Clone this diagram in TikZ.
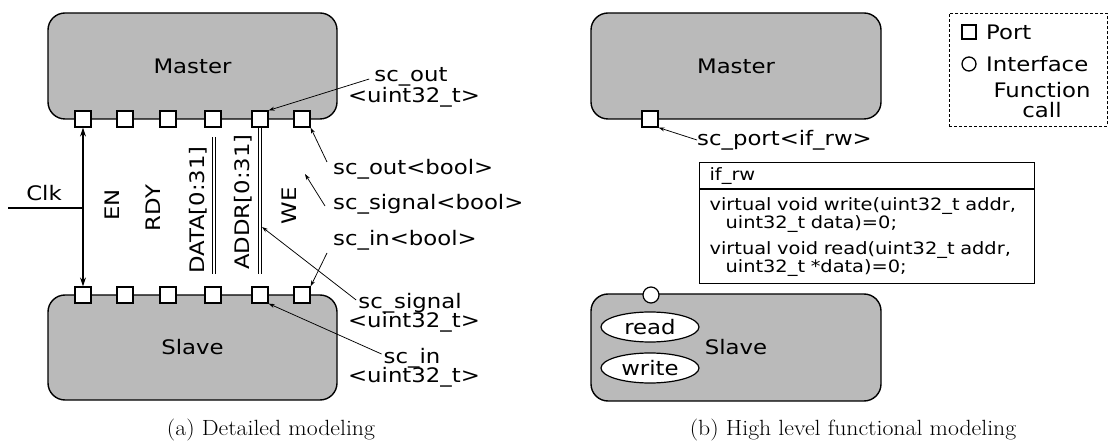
\documentclass[tikz,border=0pt]{standalone}
\usepackage{fontspec}
\usetikzlibrary{arrows.meta,shapes.geometric}
\newfontfamily\dvsans{DejaVu Sans}[FakeStretch=1.14]
\newfontfamily\capserif{Latin Modern Roman}[FakeStretch=1.08]
\definecolor{blockgray}{RGB}{186,186,186}
\tikzset{
  every node/.style={font=\dvsans\fontsize{20}{20}\selectfont},
  block/.style={draw, line width=1.4pt, fill=blockgray, rounded corners=17pt, inner sep=0pt},
  port/.style={draw, line width=1.2pt, fill=white, minimum size=16pt, inner sep=0pt},
  iface/.style={circle, draw, line width=1.2pt, fill=white, minimum size=16pt, inner sep=0pt},
  lbl/.style={inner sep=0pt},
  sig/.style={rotate=90, inner sep=0pt},
  ptr/.style={-{Stealth[length=6pt,width=4pt]}, line width=0.75pt},
  bus/.style={double, double distance=1.6pt, line width=0.9pt},
  clkarrow/.style={{Stealth[length=9pt,width=6pt]}-{Stealth[length=9pt,width=6pt]}, line width=1.3pt},
  caption/.style={font=\capserif\fontsize{22}{24}\selectfont, inner sep=0pt},
  func/.style={ellipse, draw, line width=1.2pt, fill=white, minimum width=98pt, minimum height=30pt, inner sep=0pt},
  umlpart/.style={draw, line width=1.2pt, anchor=north west, text width=315pt, inner xsep=10pt, inner ysep=0pt, align=left, font=\dvsans\fontsize{17}{16}\selectfont},
}
\begin{document}
\begin{tikzpicture}[x=1pt,y=-1pt]
\useasboundingbox (0,0) rectangle (1108,443);

% ---------- (a) signal-level model ----------
\node[block, minimum width=289pt, minimum height=106pt] (ma) at (192.5,66) {Master};
\node[block, minimum width=289pt, minimum height=105pt] (sa) at (192.5,347.5) {Slave};
\foreach \i/\x in {1/83,2/125,3/168,4/213,5/260,6/302} {
  \node[port] (pm\i) at (\x,119) {};
  \node[port] (ps\i) at (\x,295) {};
}

% clock input
\coordinate (clkin) at (8,208);
\draw[line width=1.2pt] (clkin) -- (clkin -| pm1);
\node[lbl] (clk) at (44,193) {Clk};
\draw[clkarrow] (pm1.south) -- (ps1.north);

% signal names
\node[sig] (en) at (112,205) {EN};
\node[sig] (rdy) at (153,208) {RDY};
\node[sig] (data) at (198,210) {DATA[0:31]};
\node[sig] (addr) at (243,202) {ADDR[0:31]};
\node[sig] (we) at (289,206) {WE};

% buses
\coordinate (dtop) at (214,137);
\coordinate (dbot) at (214,274);
\draw[bus] (dtop) -- (dbot);
\coordinate (abot) at (260,274);
\draw[bus] (pm5.south) -- (abot);
\coordinate (addrpt) at (262,227);
\coordinate (wesig) at (305,174);

% annotations
\node[lbl] (l1a) at (411,77) {sc\_out};
\node[lbl] (l1b) at (414,97) {<uint32\_t>};
\draw[ptr] ([shift={(-5,2)}]l1a.west) -- (pm5.north east);

\node[lbl, anchor=west] (l2) at (333,169) {sc\_out<bool>};
\draw[ptr] ([shift={(-6,-7)}]l2.west) -- (pm6.south east);

\node[lbl, anchor=west] (l3) at (333,204) {sc\_signal<bool>};
\draw[ptr] ([shift={(-8,2)}]l3.west) -- (wesig);

\node[lbl, anchor=west] (l4) at (333,240) {sc\_in<bool>};
\draw[ptr] ([shift={(-6,13)}]l4.west) -- (ps6.north east);

\node[lbl] (l5a) at (410,303) {sc\_signal};
\node[lbl] (l5b) at (414,322) {<uint32\_t>};
\draw[ptr] ([shift={(-2,-3)}]l5a.west) -- (addrpt);

\node[lbl] (l6a) at (412,358) {sc\_in};
\node[lbl] (l6b) at (414,377) {<uint32\_t>};
\draw[ptr] ([shift={(-2,-4)}]l6a.west) -- (ps5.south east);

\node[caption] (capa) at (271,430) {(a) Detailed modeling};

% ---------- (b) transaction-level model ----------
\node[block, minimum width=290pt, minimum height=106pt] (mb) at (736,66) {Master};
\node[port] (pb) at (650,119) {};
\node[lbl, anchor=west] (spl) at (697,140) {sc\_port<if\_rw>};
\draw[ptr] (spl.west) -- (pb.south east);

\node[umlpart, minimum height=26pt] (ifh) at (699,162) {if\_rw};
\node[umlpart, minimum height=94pt] (ifb) at (ifh.south west) {virtual void write(uint32\_t addr,\\\hspace*{16pt}uint32\_t data)=0;\\[8pt]virtual void read(uint32\_t addr,\\\hspace*{16pt}uint32\_t *data)=0;};

\node[block, minimum width=290pt, minimum height=107pt] (sb) at (736,347.5) {Slave};
\node[iface] (ifc) at (651,295) {};
\node[func] (rd) at (650,327) {read};
\node[func] (wr) at (650,368) {write};

\node[caption] (capb) at (853,430) {(b) High level functional modeling};

% legend
\node[draw, dash pattern=on 3pt off 2pt, line width=0.8pt, anchor=north west, minimum width=158pt, minimum height=113pt, inner sep=0pt] (leg) at (949,13) {};
\node[draw, line width=1.1pt, minimum size=14pt, inner sep=0pt] (legport) at (969,32) {};
\node[lbl, anchor=west] (legporttxt) at (986,32) {Port};
\node[circle, draw, line width=1.3pt, minimum size=14pt, inner sep=0pt] (legif) at (969,64) {};
\node[lbl, anchor=west] (legiftxt) at (986,64) {Interface};
\node[lbl, align=center] (legfn) at (1042,100) {Function\\call};
\end{tikzpicture}
\end{document}
